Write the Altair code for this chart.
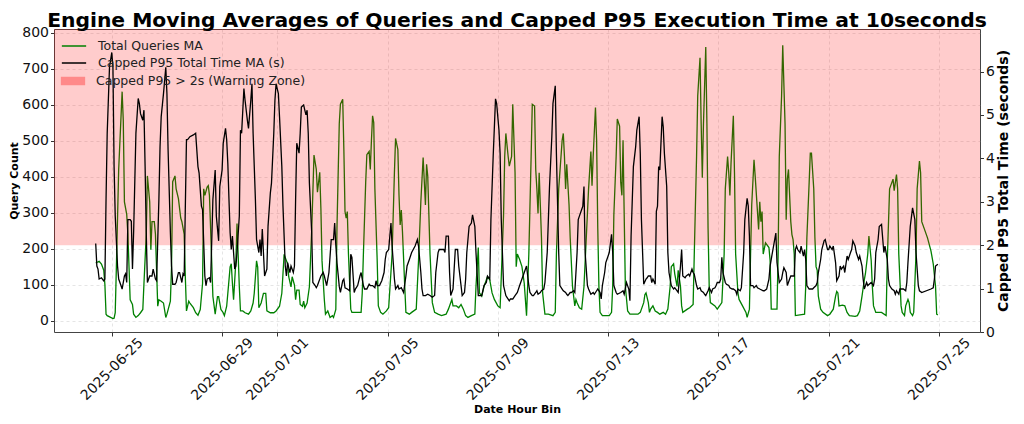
import altair as alt
import pandas as pd

TITLE = "Engine Moving Averages of Queries and Capped P95 Execution Time at 10seconds"
LINE_SERIES = ["Total Queries MA", "Capped P95 Total Time MA (s)"]
LINE_COLORS = ["green", "black"]
ZONE_SERIES = ["Capped P95 > 2s (Warning Zone)"]
ZONE_COLORS = ["red"]
WARN_THRESHOLD = 2.0
START = "2025-06-24 00:00"

# (hours since START, total queries moving average)
QUERIES = [
    (10,160),(13,165),(15,157),(17,140),(18,100),(19,18),(20,14),(23,9),(25,6),(26,7),(27,22),(28,150),(30,420),(33,636),(34,556),(35,330),(37,295),(38,240),(40,58),(42,45),(43,18),(45,9),(47,14),(49,22),(51,31),(52,103),(54,240),(55,402),(57,330),(58,197),(59,275),(61,275),(62,240),(64,40),(65,58),(67,54),(69,49),(71,9),(72,18),(75,54),(76,149),(77,386),(79,402),(80,366),(82,339),(84,285),(85,275),(87,240),(88,122),(89,27),(91,54),(92,49),(95,36),(97,22),(99,15),(101,31),(103,103),(104,366),(105,348),(107,371),(108,375),(109,348),(110,257),(112,67),(114,18),(116,67),(117,67),(119,31),(121,22),(122,14),(124,40),(125,76),(127,149),(128,158),(129,104),(130,58),(132,166),(133,270),(135,94),(136,27),(138,27),(140,22),(143,18),(145,27),(147,49),(148,76),(150,166),(151,149),(152,36),(154,49),(156,76),(158,76),(159,27),(162,22),(165,22),(167,27),(170,40),(172,76),(174,184),(175,175),(177,158),(178,122),(180,94),(181,122),(183,99),(184,58),(185,85),(187,85),(188,45),(190,40),(191,54),(192,36),(194,49),(196,94),(198,250),(200,460),(202,420),(203,357),(205,412),(206,312),(207,166),(209,58),(210,18),(212,27),(214,9),(216,14),(217,9),(219,31),(220,257),(222,547),(223,601),(225,615),(226,475),(227,303),(228,285),(229,303),(230,185),(232,32),(233,23),(238,23),(241,23),(242,77),(243,185),(245,384),(246,461),(248,470),(249,420),(250,501),(251,569),(252,550),(253,366),(255,168),(256,41),(258,23),(260,18),(263,27),(265,36),(268,185),(270,411),(271,506),(273,475),(274,348),(275,266),(276,307),(277,248),(279,95),(280,23),(283,18),(285,23),(289,32),(291,168),(293,330),(295,453),(297,321),(298,434),(299,402),(301,185),(303,50),(305,23),(308,18),(311,14),(315,18),(317,32),(320,59),(321,41),(324,41),(326,36),(328,45),(330,32),(332,14),(334,9),(337,14),(340,18),(341,95),(343,203),(344,77),(346,68),(348,95),(351,122),(353,113),(354,95),(355,77),(357,59),(360,41),(362,36),(363,120),(365,294),(366,456),(367,520),(369,456),(370,429),(372,456),(373,601),(375,411),(376,150),(377,185),(379,170),(381,150),(383,104),(384,59),(385,14),(387,185),(389,456),(390,601),(392,596),(393,420),(394,366),(395,298),(396,411),(397,321),(398,230),(399,77),(401,18),(404,18),(408,14),(410,23),(411,185),(413,366),(416,501),(417,520),(418,456),(419,366),(420,434),(422,321),(423,230),(425,95),(427,41),(428,59),(429,50),(431,36),(433,32),(435,95),(437,230),(439,366),(441,470),(442,375),(443,456),(445,592),(446,501),(447,257),(448,95),(449,23),(451,14),(457,14),(459,23),(460,95),(461,294),(463,456),(464,560),(466,540),(467,384),(468,348),(469,501),(470,294),(471,95),(473,27),(475,18),(482,18),(484,23),(487,50),(488,72),(489,77),(491,50),(492,23),(493,32),(495,41),(497,27),(499,23),(501,18),(504,23),(506,18),(508,32),(510,95),(511,150),(513,158),(514,130),(516,95),(517,140),(519,95),(520,41),(521,23),(525,32),(527,36),(530,45),(531,185),(533,456),(534,624),(536,730),(537,547),(538,397),(539,547),(541,760),(542,547),(543,257),(544,95),(545,50),(549,41),(551,32),(553,41),(555,50),(557,185),(558,366),(560,456),(561,411),(562,348),(563,438),(565,569),(566,411),(567,185),(569,77),(570,59),(573,41),(576,23),(577,9),(579,32),(580,185),(581,321),(583,447),(584,402),(586,303),(587,253),(588,330),(589,275),(590,303),(591,185),(593,216),(596,203),(597,167),(598,32),(603,32),(604,185),(605,456),(607,624),(608,765),(610,547),(611,280),(612,393),(613,420),(615,275),(616,239),(617,225),(618,185),(619,14),(627,18),(628,95),(629,230),(631,384),(632,465),(633,465),(635,366),(636,230),(637,150),(638,140),(639,68),(641,32),(643,23),(647,14),(649,18),(652,32),(654,68),(655,81),(656,77),(657,41),(660,43),(662,41),(664,23),(666,14),(671,12),(673,14),(675,27),(677,68),(679,113),(680,131),(682,185),(683,235),(685,167),(686,95),(687,41),(689,23),(694,23),(698,14),(699,167),(701,366),(702,375),(704,393),(705,361),(707,406),(708,366),(709,185),(711,41),(712,23),(714,14),(715,41),(717,59),(718,50),(719,23),(721,14),(722,23),(724,185),(725,366),(727,443),(728,411),(729,275),(731,257),(734,230),(737,194),(739,158),(741,95),(742,18),(743,16),
]

# (hours since START, capped P95 total time moving average in seconds)
P95 = [
    (10,2.04),(11,1.52),(12,1.45),(13,1.22),(15,1.25),(17,1.18),(18,1.22),(19,3.05),(20,4.58),(22,6.10),(24,6.44),(25,6.10),(26,3.81),(27,2.67),(29,1.52),(30,1.22),(32,1.07),(33,0.99),(35,1.29),(36,1.34),(37,1.14),(38,2.59),(40,2.59),(41,2.55),(42,1.45),(43,2.29),(45,4.58),(47,5.38),(48,5.26),(49,5.03),(51,4.88),(52,5.11),(53,3.81),(54,2.29),(55,1.14),(57,1.29),(59,1.29),(60,1.45),(62,1.22),(63,1.18),(65,3.05),(66,4.27),(67,4.96),(69,5.49),(71,6.10),(72,5.49),(73,4.20),(75,2.29),(76,1.52),(77,1.10),(79,1.10),(80,1.14),(82,1.37),(83,1.37),(85,1.14),(86,1.34),(87,1.29),(89,4.43),(90,4.43),(92,4.50),(95,4.54),(97,4.58),(99,3.81),(100,3.66),(102,2.90),(103,2.82),(105,1.29),(106,1.07),(107,1.22),(109,1.25),(110,1.14),(112,3.05),(114,3.73),(115,2.67),(117,2.10),(118,3.35),(120,3.73),(121,4.35),(123,4.69),(124,4.43),(125,3.88),(126,3.05),(127,2.29),(128,1.90),(129,2.21),(131,1.45),(132,1.52),(133,1.83),(135,2.67),(136,4.65),(137,4.58),(139,5.61),(140,5.34),(142,4.88),(143,4.69),(145,5.34),(146,5.72),(147,4.58),(149,3.05),(150,2.13),(152,1.83),(153,2.13),(154,1.75),(155,2.37),(157,1.29),(158,1.37),(159,1.45),(160,2.44),(162,3.20),(163,3.43),(165,4.58),(166,5.34),(167,5.72),(169,5.49),(170,4.96),(172,3.81),(173,2.90),(175,1.52),(176,1.29),(177,1.60),(179,1.37),(180,1.52),(182,1.37),(183,1.52),(184,3.05),(185,4.35),(187,4.12),(188,4.58),(189,5.18),(191,5.23),(192,5.11),(193,5.00),(194,5.11),(195,4.58),(196,3.43),(198,2.29),(199,1.14),(201,1.07),(202,1.02),(203,1.07),(206,1.29),(208,1.37),(209,1.29),(211,1.07),(212,1.22),(213,1.37),(215,2.13),(217,2.13),(218,2.51),(219,2.00),(220,1.60),(222,1.05),(223,0.91),(225,1.18),(226,1.22),(227,1.02),(229,0.99),(231,0.95),(232,1.79),(233,1.72),(235,0.91),(236,0.99),(238,1.07),(240,1.29),(241,1.37),(243,1.07),(244,0.99),(246,0.99),(248,1.10),(249,1.07),(251,1.07),(253,1.02),(254,1.18),(255,1.07),(257,1.07),(259,1.18),(261,1.37),(262,1.67),(263,1.83),(265,1.90),(267,2.51),(268,1.98),(270,1.22),(271,0.99),(273,1.07),(274,0.99),(276,1.02),(278,0.91),(280,1.29),(281,1.52),(283,1.67),(284,1.75),(285,1.83),(288,1.98),(290,2.13),(291,1.98),(293,1.37),(294,0.99),(295,0.84),(297,0.84),(299,0.87),(301,0.84),(303,0.80),(305,0.84),(306,1.37),(308,1.83),(309,1.90),(311,1.90),(313,1.90),(314,1.83),(315,2.21),(317,2.21),(318,1.37),(319,0.84),(321,0.99),(322,1.45),(323,1.90),(325,1.90),(326,1.52),(328,1.07),(329,0.84),(331,0.91),(332,1.22),(333,1.83),(335,2.43),(337,2.51),(338,2.70),(340,2.43),(341,1.83),(343,0.84),(345,0.84),(346,0.84),(348,1.07),(350,1.14),(351,1.29),(353,1.22),(354,2.59),(356,4.07),(358,5.37),(359,5.26),(361,4.65),(362,4.11),(363,2.59),(365,1.07),(367,0.84),(368,0.80),(370,0.72),(371,0.76),(373,0.76),(374,0.80),(375,0.84),(377,0.91),(379,1.07),(381,1.22),(383,1.37),(385,1.52),(387,1.07),(388,0.91),(390,0.84),(391,0.84),(393,0.91),(394,0.95),(395,0.87),(397,0.91),(398,0.95),(400,0.99),(401,1.14),(403,1.83),(405,3.35),(407,4.49),(408,5.26),(410,5.67),(411,4.11),(413,1.83),(414,1.07),(416,0.99),(417,0.95),(419,0.91),(420,0.87),(421,0.84),(423,0.91),(424,0.91),(426,0.95),(427,0.91),(429,1.83),(430,2.59),(431,2.67),(433,2.82),(434,2.90),(435,3.35),(436,1.83),(438,1.07),(439,0.99),(441,0.87),(443,0.91),(444,0.87),(446,0.95),(447,0.99),(449,0.91),(450,0.76),(451,1.07),(453,1.37),(454,1.60),(456,1.75),(457,1.83),(459,2.25),(460,1.83),(461,1.07),(463,0.91),(464,0.87),(467,0.91),(469,0.95),(470,0.87),(472,1.14),(474,0.99),(475,0.72),(476,2.21),(478,3.81),(480,4.27),(481,4.65),(483,4.96),(484,4.11),(485,2.59),(487,1.10),(489,1.22),(490,1.25),(491,1.29),(493,1.29),(494,1.14),(495,1.22),(497,1.10),(498,2.78),(499,2.90),(500,3.81),(501,3.73),(503,4.96),(504,4.72),(505,4.11),(507,3.35),(508,1.83),(509,1.37),(511,1.07),(513,0.99),(514,1.02),(517,0.91),(519,1.52),(520,1.90),(521,1.29),(523,1.25),(524,1.29),(526,1.33),(527,1.29),(529,1.45),(530,1.37),(531,1.33),(533,1.07),(534,0.99),(536,1.02),(537,0.95),(539,0.91),(540,0.87),(541,0.84),(543,0.95),(544,1.02),(546,0.91),(547,0.99),(549,1.02),(550,1.07),(551,1.14),(553,1.14),(554,1.22),(555,1.72),(556,1.37),(558,1.14),(559,1.10),(561,1.07),(562,1.02),(564,0.99),(565,0.99),(567,0.95),(568,0.87),(569,0.99),(571,0.95),(572,1.02),(574,1.83),(575,2.59),(577,3.08),(578,2.90),(579,2.21),(580,1.07),(582,1.07),(583,1.02),(585,1.07),(586,1.02),(588,0.99),(591,0.95),(592,0.95),(594,0.99),(596,1.22),(597,1.52),(599,1.83),(600,1.98),(601,2.13),(602,2.28),(603,1.60),(605,1.14),(607,1.22),(608,1.37),(609,1.48),(611,1.37),(612,1.07),(614,1.22),(615,1.29),(618,1.29),(619,1.90),(620,1.98),(621,1.90),(623,1.83),(624,1.98),(626,1.75),(627,1.90),(628,1.67),(629,1.07),(631,0.99),(634,0.99),(635,1.02),(637,1.07),(638,1.14),(639,1.37),(641,1.67),(642,1.90),(644,2.10),(645,2.13),(647,1.90),(648,1.90),(649,1.98),(651,1.90),(652,1.98),(654,1.60),(655,1.18),(657,1.29),(658,1.52),(659,1.45),(661,1.52),(662,1.37),(664,1.75),(665,1.67),(667,1.83),(668,1.90),(669,2.10),(671,1.98),(672,1.83),(674,1.67),(675,1.75),(677,1.52),(678,1.22),(679,0.99),(681,1.14),(682,1.07),(685,1.14),(687,1.07),(688,1.22),(689,1.83),(691,2.13),(692,2.43),(694,2.48),(696,1.83),(697,1.98),(699,1.67),(700,1.22),(701,1.07),(703,0.99),(705,0.95),(706,0.87),(707,0.95),(709,0.87),(710,0.99),(713,0.99),(715,0.95),(716,1.14),(717,1.60),(719,2.43),(721,2.86),(723,2.59),(724,1.83),(726,1.07),(727,0.95),(729,0.91),(737,0.99),(739,1.02),(740,1.22),(741,1.52),(743,1.56),
]

X_TICKS = ["2025-06-25", "2025-06-29", "2025-07-01", "2025-07-05", "2025-07-09",
           "2025-07-13", "2025-07-17", "2025-07-21", "2025-07-25"]
X_DOMAIN = ["2025-06-22 21:42", "2025-07-26 11:42"]
Q_TICKS = [0, 100, 200, 300, 400, 500, 600, 700, 800]
Q_DOMAIN = [-31.5, 810]
S_TICKS = [0, 1, 2, 3, 4, 5, 6]
S_DOMAIN = [0, 6.98]

FONT = "DejaVu Sans"


def to_dt(s):
    t = pd.Timestamp(s)
    return alt.DateTime(year=t.year, month=t.month, date=t.day, hours=t.hour, minutes=t.minute)


base = pd.Timestamp(START)
df_q = pd.DataFrame({
    "time": [base + pd.Timedelta(hours=h) for h, _ in QUERIES],
    "value": [v for _, v in QUERIES],
    "series": LINE_SERIES[0],
})
df_p = pd.DataFrame({
    "time": [base + pd.Timedelta(hours=h) for h, _ in P95],
    "value": [v for _, v in P95],
    "series": LINE_SERIES[1],
})
df_z = pd.DataFrame({
    "start": [pd.Timestamp(X_DOMAIN[0])],
    "end": [pd.Timestamp(X_DOMAIN[1])],
    "lo": [WARN_THRESHOLD],
    "hi": [S_DOMAIN[1]],
    "zone": ZONE_SERIES,
})

GRID = dict(grid=True, gridColor="#aaaaaa", gridOpacity=0.38, gridDash=[3, 3], gridWidth=0.8)

x_scale = alt.Scale(domain=[to_dt(X_DOMAIN[0]), to_dt(X_DOMAIN[1])], nice=False)
x_axis = alt.Axis(
    values=[to_dt(d) for d in X_TICKS], format="%Y-%m-%d",
    labelAngle=-45, labelAlign="center", labelBaseline="middle", labelPadding=33,
    labelFontSize=14, labelOverlap=False, labelFlush=False, tickSize=4,
    title="Date Hour Bin", titleFontSize=11, titleFontWeight="bold", titlePadding=1,
    **GRID,
)

LINE_PATH = "M-1.35,0H1.35"
RECT_PATH = "M-1.35,-0.47H1.35V0.47H-1.35Z"

legend_common = dict(
    title=None, orient="none", legendX=10,
    labelFont=FONT, labelFontSize=12.5, labelColor="#222", labelOffset=14, labelLimit=400,
    symbolSize=324, rowPadding=0, padding=0,
)

color = alt.Color(
    "series:N",
    scale=alt.Scale(domain=LINE_SERIES, range=LINE_COLORS),
    legend=alt.Legend(legendY=7, symbolType=LINE_PATH, symbolStrokeWidth=1.5, **legend_common),
)
fill = alt.Fill(
    "zone:N",
    scale=alt.Scale(domain=ZONE_SERIES, range=ZONE_COLORS),
    legend=alt.Legend(legendY=43, symbolType=RECT_PATH, symbolOpacity=0.33,
                      symbolStrokeWidth=0, **legend_common),
)

green = alt.Chart(df_q).mark_line(strokeWidth=1.3).encode(
    x=alt.X("time:T", scale=x_scale, axis=x_axis),
    y=alt.Y("value:Q", scale=alt.Scale(domain=Q_DOMAIN, nice=False, zero=False),
            axis=alt.Axis(orient="left", values=Q_TICKS, title="Query Count",
                          titleFontSize=11, titleFontWeight="bold", titlePadding=2,
                          labelFontSize=14, tickSize=3.5, labelPadding=2, **GRID)),
    color=color,
)

zone = alt.Chart(df_z).mark_rect(opacity=0.2).encode(
    x=alt.X("start:T", scale=x_scale, axis=x_axis),
    x2="end:T",
    y=alt.Y("lo:Q", scale=alt.Scale(domain=S_DOMAIN, nice=False), axis=None),
    y2="hi:Q",
    fill=fill,
)

black = alt.Chart(df_p).mark_line(strokeWidth=1.3).encode(
    x=alt.X("time:T", scale=x_scale, axis=x_axis),
    y=alt.Y("value:Q", scale=alt.Scale(domain=S_DOMAIN, nice=False),
            axis=alt.Axis(orient="right", values=S_TICKS, title="Capped P95 Total Time (seconds)",
                          titleFontSize=14, titleFontWeight="bold", titleAngle=270, titleBaseline="top",
                          titlePadding=2, labelFontSize=14, tickSize=3.5, labelPadding=2, grid=False)),
    color=color,
)

chart = alt.layer(green, zone, black).resolve_scale(y="independent").properties(
    width=926, height=303,
    padding={"left": 0, "top": 3, "right": 0, "bottom": 0},
    title=alt.TitleParams(TITLE, fontSize=20.3, fontWeight="bold", font=FONT,
                          anchor="middle", offset=-6, color="black"),
).configure(font=FONT).configure_axis(
    labelColor="#111", titleColor="black", tickColor="#333", domain=False, labelFont=FONT, titleFont=FONT,
).configure_view(stroke="#444", strokeWidth=1)

chart.save("out.html", embed_options={"renderer": "svg", "actions": False})
